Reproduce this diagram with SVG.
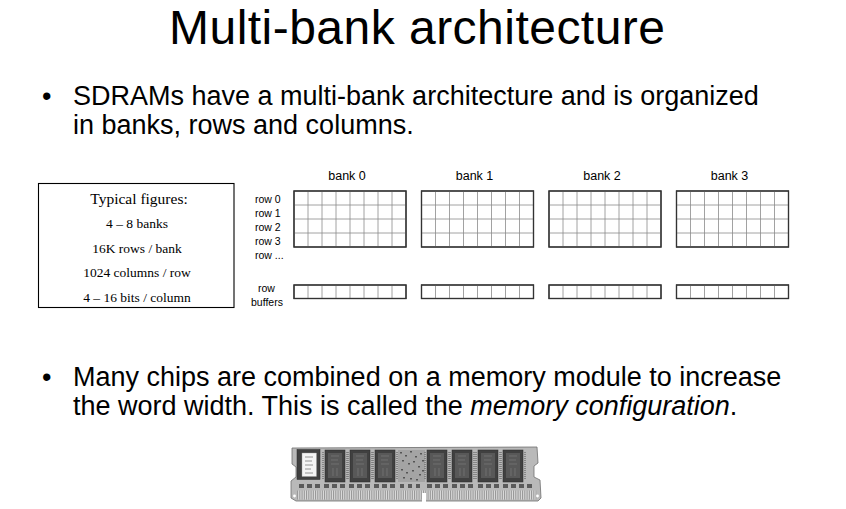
<svg xmlns="http://www.w3.org/2000/svg" width="846" height="509" viewBox="0 0 846 509">
<style>
.sans{font-family:"Liberation Sans",Arial,sans-serif;fill:#000}
.serif{font-family:"Liberation Serif","Times New Roman",serif;fill:#000}
.title{font-size:48px}
.bul{font-size:27px}
.fig{font-size:13.5px}
.bank{font-size:12.5px}
.rowl{font-size:10.5px}
.outer{fill:#fff;stroke:#333;stroke-width:1.2}
.inner{stroke:#8a8a8a;stroke-width:0.8;fill:none}
.chip{fill:#404040;stroke:#2a2a2a;stroke-width:0.5}
.chipin{fill:#585858}
.comp{fill:#5a5a5a}
</style>
<defs>
<g id="grid">
<rect class="outer" x="0" y="0" width="112" height="56"/>
<path class="inner" d="M14,0V56M28,0V56M42,0V56M56,0V56M70,0V56M84,0V56M98,0V56M0,14H112M0,28H112M0,42H112"/>
<rect x="0" y="0" width="112" height="56" fill="none" stroke="#333" stroke-width="1.2"/>
</g>
<g id="buf">
<rect class="outer" x="0" y="0" width="112" height="13.5"/>
<path class="inner" d="M14,0V13.5M28,0V13.5M42,0V13.5M56,0V13.5M70,0V13.5M84,0V13.5M98,0V13.5"/>
<rect x="0" y="0" width="112" height="13.5" fill="none" stroke="#333" stroke-width="1.2"/>
</g>
<pattern id="pins" x="0" y="0" width="1.8" height="10" patternUnits="userSpaceOnUse">
<rect x="0" y="0" width="1.8" height="10" fill="#dedede"/>
<rect x="0" y="0" width="0.8" height="10" fill="#8c8c8c"/>
</pattern>
<g id="chipshape">
<rect class="chip" x="0" y="0" width="20" height="32"/>
<rect class="chipin" x="3" y="3" width="14" height="25"/>
<path d="M6,6H14M6,10H13M6,14H14M8,18V26M12,18V26" stroke="#777" stroke-width="0.8" fill="none"/>
<path d="M-2,2V30M22,2V30" stroke="#7a7a7a" stroke-width="1.6" stroke-dasharray="1 1" fill="none"/>
</g>
</defs>

<g id="title">
<text class="sans title" x="417" y="44" text-anchor="middle" textLength="496" lengthAdjust="spacing">Multi-bank architecture</text>
</g>

<g id="bullet1">
<text class="sans bul" x="42" y="105">•</text>
<text class="sans bul" x="73" y="105">SDRAMs have a multi-bank architecture and is organized</text>
<text class="sans bul" x="73" y="133.5">in banks, rows and columns.</text>
</g>

<g id="typical-figures">
<rect x="38.5" y="183.5" width="195.5" height="124" fill="#fff" stroke="#000" stroke-width="1.1"/>
<text class="serif" x="139" y="204" text-anchor="middle" font-size="15.5">Typical figures:</text>
<text class="serif fig" x="137" y="228" text-anchor="middle">4 – 8 banks</text>
<text class="serif fig" x="137" y="252.5" text-anchor="middle">16K rows / bank</text>
<text class="serif fig" x="137" y="277" text-anchor="middle">1024 columns / row</text>
<text class="serif fig" x="137" y="301.5" text-anchor="middle">4 – 16 bits / column</text>
</g>

<g id="row-labels">
<text class="sans rowl" x="255" y="202.5">row 0</text>
<text class="sans rowl" x="255" y="216.5">row 1</text>
<text class="sans rowl" x="255" y="230.5">row 2</text>
<text class="sans rowl" x="255" y="244.5">row 3</text>
<text class="sans rowl" x="255" y="258.5">row ...</text>
<text class="sans rowl" x="266.5" y="292.3" text-anchor="middle">row</text>
<text class="sans rowl" x="267" y="305.7" text-anchor="middle">buffers</text>
</g>

<g id="bank0">
<text class="sans bank" x="347" y="180" text-anchor="middle">bank 0</text>
<use href="#grid" x="294" y="191"/>
<use href="#buf" x="294" y="285"/>
</g>
<g id="bank1">
<text class="sans bank" x="474.5" y="180" text-anchor="middle">bank 1</text>
<use href="#grid" x="421.5" y="191"/>
<use href="#buf" x="421.5" y="285"/>
</g>
<g id="bank2">
<text class="sans bank" x="602" y="180" text-anchor="middle">bank 2</text>
<use href="#grid" x="549" y="191"/>
<use href="#buf" x="549" y="285"/>
</g>
<g id="bank3">
<text class="sans bank" x="729.5" y="180" text-anchor="middle">bank 3</text>
<use href="#grid" x="676.5" y="191"/>
<use href="#buf" x="676.5" y="285"/>
</g>

<g id="bullet2">
<text class="sans bul" x="42" y="386">•</text>
<text class="sans bul" x="73" y="386">Many chips are combined on a memory module to increase</text>
<text class="sans bul" x="73" y="414.5">the word width. This is called the <tspan font-style="italic">memory configuration</tspan>.</text>
</g>

<g id="memory-module">
<path d="M292,448 L537,447 L538,463 L534,466 L534,477 L540,480 L541,498 L538,501 L296,501 L291,498 L291,481 L296,477 L296,467 L292,464 Z" fill="#b9b9b9" stroke="#6f6f6f" stroke-width="0.8"/>
<rect x="398" y="450" width="27" height="32" fill="#a4a4a4"/>
<g fill="#555">
<rect x="400" y="452" width="2" height="1.5"/><rect x="405" y="455" width="2" height="1.5"/><rect x="410" y="451" width="2" height="1.5"/>
<rect x="415" y="456" width="2" height="1.5"/><rect x="420" y="453" width="2" height="1.5"/><rect x="402" y="460" width="2" height="1.5"/>
<rect x="408" y="463" width="2" height="1.5"/><rect x="413" y="461" width="2" height="1.5"/><rect x="418" y="466" width="2" height="1.5"/>
<rect x="401" y="469" width="2" height="1.5"/><rect x="406" y="472" width="2" height="1.5"/><rect x="412" y="470" width="2" height="1.5"/>
<rect x="419" y="474" width="2" height="1.5"/><rect x="403" y="477" width="2" height="1.5"/><rect x="410" y="478" width="2" height="1.5"/>
<rect x="416" y="479" width="2" height="1.5"/><rect x="422" y="460" width="2" height="1.5"/><rect x="422" y="470" width="2" height="1.5"/>
</g>
<rect class="chip" x="297" y="449.5" width="23" height="30"/>
<rect x="302" y="453" width="14.5" height="23.5" fill="#f4f4f4" stroke="#999" stroke-width="0.4"/>
<path d="M305,457H313M305,461H312M305,465H313M305,469H311M305,473H313" stroke="#888" stroke-width="0.9"/>
<use href="#chipshape" x="325" y="450"/>
<use href="#chipshape" x="350" y="450"/>
<use href="#chipshape" x="375" y="450"/>
<use href="#chipshape" x="427" y="450"/>
<use href="#chipshape" x="452" y="450"/>
<use href="#chipshape" x="478" y="450"/>
<use href="#chipshape" x="503" y="450"/>
<g class="comp">
<rect x="299" y="484" width="5" height="4"/><rect x="307" y="484" width="5" height="4"/><rect x="315" y="484" width="5" height="4"/>
<rect x="324" y="484" width="5" height="4"/><rect x="332" y="484" width="5" height="4"/><rect x="340" y="484" width="5" height="4"/>
<rect x="349" y="484" width="5" height="4"/><rect x="357" y="484" width="5" height="4"/><rect x="365" y="484" width="5" height="4"/>
<rect x="374" y="484" width="5" height="4"/><rect x="382" y="484" width="5" height="4"/><rect x="390" y="484" width="5" height="4"/>
<rect x="400" y="484" width="4" height="4"/><rect x="408" y="484" width="4" height="4"/><rect x="416" y="484" width="4" height="4"/>
<rect x="427" y="484" width="5" height="4"/><rect x="435" y="484" width="5" height="4"/><rect x="443" y="484" width="5" height="4"/>
<rect x="452" y="484" width="5" height="4"/><rect x="460" y="484" width="5" height="4"/><rect x="468" y="484" width="5" height="4"/>
<rect x="478" y="484" width="5" height="4"/><rect x="486" y="484" width="5" height="4"/><rect x="494" y="484" width="5" height="4"/>
<rect x="503" y="484" width="5" height="4"/><rect x="511" y="484" width="5" height="4"/><rect x="519" y="484" width="5" height="4"/>
<rect x="527" y="484" width="5" height="4"/>
</g>
<rect x="297" y="490.5" width="240" height="9" fill="url(#pins)"/>
<rect x="422" y="493" width="4" height="9" fill="#fff"/>
<circle cx="294.5" cy="496" r="1.4" fill="#fff"/>
<circle cx="537.5" cy="496" r="1.4" fill="#fff"/>
</g>
</svg>
